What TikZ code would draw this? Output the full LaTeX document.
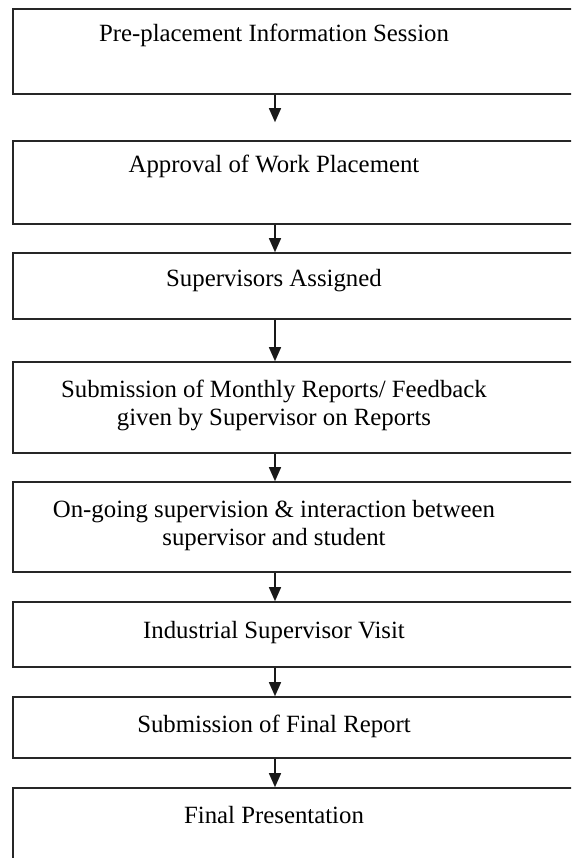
\documentclass[tikz,border=0pt]{standalone}
\usepackage{fontspec}
\setmainfont{Liberation Serif}
\usetikzlibrary{arrows.meta}
\begin{document}
\begin{tikzpicture}[x=1pt,y=-1pt,
  box/.style={draw=black!85, line width=1.6pt, rectangle, minimum width=587pt, inner sep=0pt},
  txt/.style={font=\fontsize{24.8}{28}\selectfont, align=center, anchor=base, inner sep=0pt, text=black},
  arr/.style={draw=black!90, line width=1.5pt, -{Triangle[width=12pt,length=14pt]}}]
\useasboundingbox (0,0) rectangle (571,858);
\clip (0,0) rectangle (571,858);
\coordinate (ax) at (275,0);
\node[box, minimum height=85pt] (b1) at (306.5,51.5) {};
\node[box, minimum height=83pt] (b2) at (306.5,182.5) {};
\node[box, minimum height=66pt] (b3) at (306.5,286) {};
\node[box, minimum height=91pt] (b4) at (306.5,407.5) {};
\node[box, minimum height=90pt] (b5) at (306.5,527) {};
\node[box, minimum height=65pt] (b6) at (306.5,634.5) {};
\node[box, minimum height=61pt] (b7) at (306.5,727.5) {};
\node[box, minimum height=100pt] (b8) at (306.5,838) {};
\node[txt] (t1) at (274,42) {Pre-placement Information Session};
\node[txt] (t2) at (274,173) {Approval of Work Placement};
\node[txt] (t3) at (274,287) {Supervisors Assigned};
\node[txt] (t4) at (274,425) {Submission of Monthly Reports/ Feedback\\given by Supervisor on Reports};
\node[txt] (t5) at (274,545) {On-going supervision \& interaction between\\supervisor and student};
\node[txt] (t6) at (274,638) {Industrial Supervisor Visit};
\node[txt] (t7) at (274,732) {Submission of Final Report};
\node[txt] (t8) at (274,823) {Final Presentation};
\draw[arr] (b1.south -| ax) -- ([yshift=18pt]b2.north -| ax);
\draw[arr] (b2.south -| ax) -- (b3.north -| ax);
\draw[arr] (b3.south -| ax) -- (b4.north -| ax);
\draw[arr] (b4.south -| ax) -- (b5.north -| ax);
\draw[arr] (b5.south -| ax) -- (b6.north -| ax);
\draw[arr] (b6.south -| ax) -- (b7.north -| ax);
\draw[arr] (b7.south -| ax) -- (b8.north -| ax);
\end{tikzpicture}
\end{document}
